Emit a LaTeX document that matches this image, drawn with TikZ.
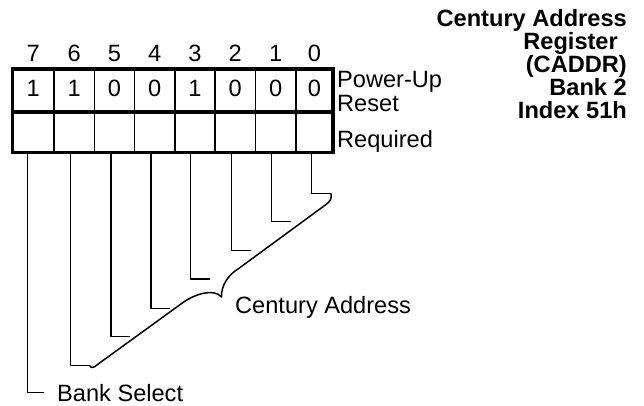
\documentclass[tikz,border=0pt]{standalone}
\usepackage{fontspec}
\setmainfont{Liberation Sans}
\begin{document}
\begin{tikzpicture}[x=1pt,y=-1pt,
  txt/.style={inner sep=0pt, font=\fontsize{23.6pt}{25pt}\selectfont},
  ttl/.style={inner sep=0pt, anchor=base east, font=\fontsize{23.6pt}{25pt}\selectfont\bfseries},
  thickln/.style={line width=3.6pt},
  thinln/.style={line width=1.6pt},
  conn/.style={line width=1.5pt, line join=round},
]
\useasboundingbox (0,0) rectangle (644,406);

% register box
\foreach \x in {54,94.3,134.6,174.8,215.1,255.4,295.7}
  \draw[thinln] (\x,69.3) -- (\x,152.7);
\draw[thickln] (12.3,69.3) rectangle (333,152.7);
\draw[thickln] (12.3,112) -- (333,112);

% bit numbers and reset values
\foreach \n/\cx/\v in {7/33.2/1,6/74.2/1,5/114.5/0,4/154.7/0,3/195/1,2/235.3/0,1/275.6/0,0/314.4/0}{
  \node[txt, anchor=base] (b\n) at (\cx,61.7) {\n};
  \node[txt, anchor=base] (v\n) at (\cx,96.7) {\v};
}

% side labels
\node[txt, anchor=base west] (pu) at (337,87.3) {Power-Up};
\node[txt, anchor=base west] (rs) at (337,112) {Reset};
\node[txt, anchor=base west] (rq) at (337,147) {Required};

% title
\node[ttl] (ti1) at (627,27) {Century Address};
\node[ttl] (ti2) at (618,50) {Register};
\node[ttl] (ti3) at (627,73) {(CADDR)};
\node[ttl] (ti4) at (627,96) {Bank 2};
\node[ttl] (ti5) at (627,118.5) {Index 51h};

% connector start points at bottom of box
\foreach \n/\x in {7/27.5,6/70.7,5/111,4/151,3/190.7,2/231.7,1/271.7,0/311.7}
  \coordinate (t\n) at (\x,152.7);
% stub end points
\coordinate (e6) at (89.7,365.5);
\coordinate (e5) at (130,336.7);
\coordinate (e4) at (170,308.3);
\coordinate (e3) at (210.3,279);
\coordinate (e2) at (251.2,250.7);
\coordinate (e1) at (291.2,221.7);
\coordinate (e0) at (331,193.3);
\coordinate (e7) at (44,392.5);

\foreach \n in {0,...,7}
  \draw[conn] (t\n) |- (e\n);

% brace
\draw[conn] (e6) .. controls (90.5,368) and (93.5,368.5) .. (97.5,364.5)
  -- (183,302.5) .. controls (195,294) and (214,288) .. (221.5,297)
  .. controls (221,286) and (228,275) .. (238,269)
  -- (326,204.5) .. controls (330,201.5) and (332,199) .. (e0);

% bottom labels
\node[txt, anchor=base west] (ca) at (235,313.3) {Century Address};
\node[txt, anchor=base west] (bs) at (57,401.5) {Bank Select};
\end{tikzpicture}
\end{document}
